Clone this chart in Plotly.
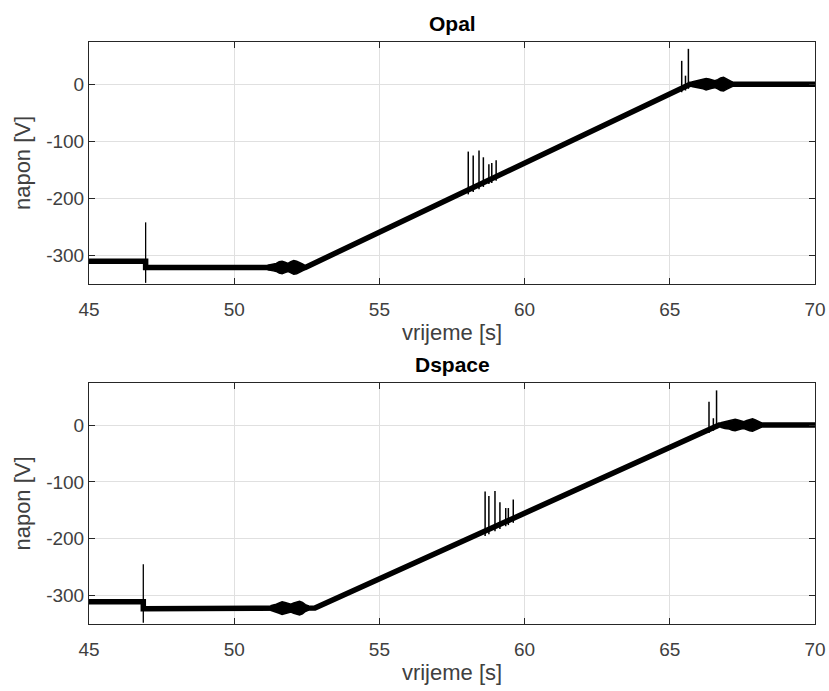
import numpy as np
import plotly.graph_objects as go

# ---------------- data ----------------
# Opal
opal_t = [45.0, 46.95, 46.95, 51.2, 52.45, 65.7, 70.0]
opal_v = [-310, -310, -321, -321, -321, 0, 0]
opal_step_t = [46.95]
opal_step_low = [-348]
opal_step_high = [-242]
opal_spike_t = [58.06, 58.23, 58.43, 58.58, 58.77, 58.87, 59.02, 65.41, 65.54, 65.64]
opal_spike_low = [-193, -189, -184, -180, -175, -173, -169, -14, -11, -8]
opal_spike_peak = [-118, -125, -116, -128, -140, -138, -133, 41, 15, 62]
# noise bursts: sample times, centre level, half-height of the noise band
opal_burst1_t = [51.15, 51.25, 51.35, 51.45, 51.55, 51.65, 51.75, 51.85, 51.95, 52.05, 52.15, 52.25, 52.35, 52.42]
opal_burst1_level = -321
opal_burst1_amp = [4, 5, 6, 7, 10, 11, 9, 7, 10, 12, 11, 9, 6, 4]
opal_burst2_t = [65.75, 65.9, 66.05, 66.15, 66.25, 66.35, 66.45, 66.55, 66.65, 66.75, 66.85, 66.95, 67.05, 67.15]
opal_burst2_level = 0
opal_burst2_amp = [4, 6, 7, 8, 10, 9, 7, 6, 8, 11, 12, 9, 6, 4]

# Dspace
dsp_t = [45.0, 46.87, 46.87, 51.3, 52.78, 66.7, 70.0]
dsp_v = [-311, -311, -323, -322, -322, 0, 0]
dsp_step_t = [46.87]
dsp_step_low = [-348]
dsp_step_high = [-245]
dsp_spike_t = [58.64, 58.77, 58.98, 59.15, 59.35, 59.44, 59.61, 66.35, 66.5, 66.61]
dsp_spike_low = [-195, -192, -187, -183, -178, -176, -172, -14, -10, -7]
dsp_spike_peak = [-117, -125, -116, -136, -146, -146, -131, 41, 12, 61]
dsp_burst1_t = [51.25, 51.35, 51.45, 51.55, 51.65, 51.75, 51.85, 51.95, 52.05, 52.15, 52.25, 52.35, 52.45, 52.55]
dsp_burst1_level = -322
dsp_burst1_amp = [4, 5, 7, 9, 11, 10, 8, 7, 9, 11, 12, 10, 6, 4]
dsp_burst2_t = [66.75, 66.9, 67.05, 67.15, 67.25, 67.35, 67.45, 67.55, 67.65, 67.75, 67.85, 67.95, 68.05, 68.15]
dsp_burst2_level = 0
dsp_burst2_amp = [4, 6, 7, 9, 10, 9, 7, 6, 8, 10, 11, 9, 6, 4]

x_ticks = [45, 50, 55, 60, 65, 70]
x_tick_labels = ["45", "50", "55", "60", "65", "70"]
y_ticks = [-300, -200, -100, 0]
y_tick_labels = ["-300", "-200", "-100", "0"]
x_title = "vrijeme [s]"
y_title = "napon [V]"
titles = ["Opal", "Dspace"]

# ---------------- figure ----------------
LINE = "#000000"
fig = go.Figure()


def segments(ts, lows, highs):
    xs, ys = [], []
    for t, lo, hi in zip(ts, lows, highs):
        xs += [t, t, None]
        ys += [lo, hi, None]
    return xs, ys


def add_panel(xa, ya, t, v, step, spikes, bursts):
    fig.add_trace(go.Scatter(x=t, y=v, mode="lines", xaxis=xa, yaxis=ya,
                             line=dict(color=LINE, width=5.5), showlegend=False,
                             hoverinfo="skip"))
    for bt, level, amp in bursts:
        px = list(bt) + list(bt)[::-1]
        py = [level + a for a in amp] + [level - a for a in amp][::-1]
        fig.add_trace(go.Scatter(x=px, y=py, mode="lines", fill="toself",
                                 fillcolor=LINE, xaxis=xa, yaxis=ya,
                                 line=dict(color=LINE, width=1.5), showlegend=False,
                                 hoverinfo="skip"))
    sx, sy = segments(*step)
    fig.add_trace(go.Scatter(x=sx, y=sy, mode="lines", xaxis=xa, yaxis=ya,
                             line=dict(color=LINE, width=1.3), showlegend=False,
                             hoverinfo="skip"))
    sx, sy = segments(*spikes)
    fig.add_trace(go.Scatter(x=sx, y=sy, mode="lines", xaxis=xa, yaxis=ya,
                             line=dict(color=LINE, width=1.5), showlegend=False,
                             hoverinfo="skip"))


add_panel("x", "y", opal_t, opal_v,
          (opal_step_t, opal_step_low, opal_step_high),
          (opal_spike_t, opal_spike_low, opal_spike_peak),
          [(opal_burst1_t, opal_burst1_level, opal_burst1_amp),
           (opal_burst2_t, opal_burst2_level, opal_burst2_amp)])
add_panel("x2", "y2", dsp_t, dsp_v,
          (dsp_step_t, dsp_step_low, dsp_step_high),
          (dsp_spike_t, dsp_spike_low, dsp_spike_peak),
          [(dsp_burst1_t, dsp_burst1_level, dsp_burst1_amp),
           (dsp_burst2_t, dsp_burst2_level, dsp_burst2_amp)])

W, H = 829, 691
FONT = "Liberation Sans, Arial, Helvetica, sans-serif"
AX = "#262626"
TXT = "#404040"


def xaxis(anchor, domain_px):
    return dict(domain=[domain_px[0] / W, domain_px[1] / W], anchor=anchor,
                range=[45, 70], tickvals=x_ticks, ticktext=x_tick_labels,
                ticks="inside", ticklen=6, automargin=False, ticklabelstandoff=8,
                tickcolor=AX, showline=True, linecolor=AX, linewidth=1,
                mirror="ticks", showgrid=True, gridcolor="#e0e0e0", gridwidth=1,
                zeroline=False, tickfont=dict(size=19, color=TXT, family=FONT),
                title=dict(text=x_title, font=dict(size=22, color=TXT, family=FONT),
                           standoff=5))


def yaxis(anchor, top_px, bot_px):
    return dict(domain=[1 - bot_px / H, 1 - top_px / H], anchor=anchor,
                range=[-350, 74], tickvals=y_ticks, ticktext=y_tick_labels,
                ticks="inside", ticklen=6, automargin=False,
                tickcolor=AX, showline=True, linecolor=AX, linewidth=1,
                mirror="ticks", showgrid=True, gridcolor="#e0e0e0", gridwidth=1,
                zeroline=False, tickfont=dict(size=19, color=TXT, family=FONT),
                title=dict(text=y_title, font=dict(size=22, color=TXT, family=FONT),
                           standoff=9))


fig.update_layout(
    width=W, height=H,
    margin=dict(l=0, r=0, t=0, b=0, autoexpand=False),
    paper_bgcolor="white", plot_bgcolor="white",
    xaxis=xaxis("y", (89, 815)),
    yaxis=yaxis("x", 42, 284),
    xaxis2=xaxis("y2", (89, 815)),
    yaxis2=yaxis("x2", 383, 624),
    annotations=[
        dict(text="<b>%s</b>" % titles[0], x=452 / W, y=1 - 23 / H, xref="paper",
             yref="paper", showarrow=False, xanchor="center", yanchor="middle",
             font=dict(size=21, color="#000000", family=FONT)),
        dict(text="<b>%s</b>" % titles[1], x=452 / W, y=1 - 364 / H, xref="paper",
             yref="paper", showarrow=False, xanchor="center", yanchor="middle",
             font=dict(size=21, color="#000000", family=FONT)),
    ],
)

fig.write_html("out.html", config={"displayModeBar": False},
               post_script="document.body.style.margin='0';document.body.style.padding='0';")
